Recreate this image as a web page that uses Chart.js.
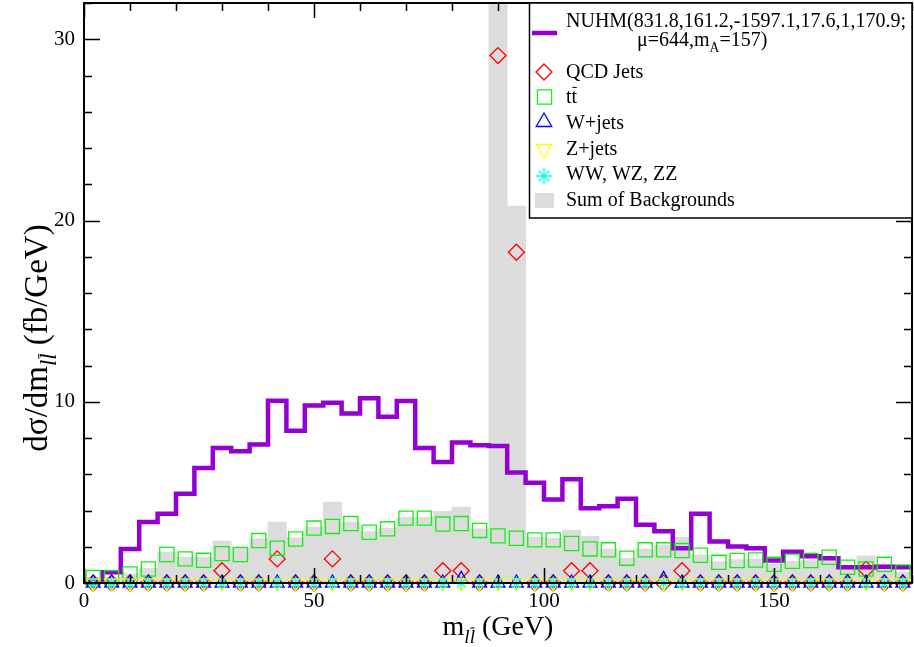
<!DOCTYPE html>
<html>
<head>
<meta charset="utf-8">
<title>m_ll distribution</title>
<script src="https://cdn.jsdelivr.net/npm/chart.js@4.4.0/dist/chart.umd.min.js"></script>
<style>
  html, body { margin: 0; padding: 0; background: #fff; }
  #wrap { width: 914px; height: 647px; }
</style>
</head>
<body>
<div id="wrap"><canvas id="mllChart"></canvas></div>
<script>
// bin centres (GeV), 4 GeV bins from 0 to 180
const massBins = [2, 6, 10, 14, 18, 22, 26, 30, 34, 38, 42, 46, 50, 54, 58, 62, 66, 70, 74, 78, 82, 86, 90,
  94, 98, 102, 106, 110, 114, 118, 122, 126, 130, 134, 138, 142, 146, 150, 154, 158, 162, 166, 170, 174, 178];
const binWidth = 4;

const nuhmSignal = [0.15, 0.6, 1.88, 3.36, 3.82, 4.93, 6.35, 7.45, 7.27, 7.64, 10.06, 8.4, 9.8, 9.95, 9.35, 10.2,
  9.17, 10.04, 7.45, 6.68, 7.75, 7.6, 7.56, 6.09, 5.53, 4.61, 5.72, 4.13, 4.24, 4.65, 3.21, 2.86, 1.92, 3.82,
  2.29, 2.01, 1.92, 1.24, 1.73, 1.48, 1.37, 0.87, 0.87, 0.9, 0.87];
const qcdJets = [0, 0, 0, 0, 0, 0, 0, 0.68, 0, 0, 1.33, 0, 0, 1.33, 0, 0, 0, 0, 0, 0.68, 0.68, 0, 29.1,
  18.25, 0, 0, 0.68, 0.68, 0, 0, 0, 0, 0.68, 0, 0, 0, 0, 0, 0, 0, 0, 0, 0.75, 0, 0];
const ttbar = [0.3, 0.3, 0.5, 0.77, 1.57, 1.33, 1.25, 1.62, 1.57, 2.34, 1.92, 2.43, 3.03, 3.12, 3.28, 2.8,
  2.99, 3.58, 3.58, 3.25, 3.28, 2.9, 2.6, 2.47, 2.38, 2.38, 2.18, 1.88, 1.83, 1.37, 1.83, 1.83, 1.79, 1.53,
  1.14, 1.24, 1.27, 1.03, 1.2, 1.24, 1.42, 0.87, 0.77, 1.03, 0.61];
const wJets = [0, 0, 0, 0, 0, 0, 0, 0, 0, 0, 0, 0, 0, 0, 0, 0, 0, 0, 0, 0, 0.2, 0, 0,
  0, 0, 0, 0, 0, 0, 0, 0, 0.2, 0, 0, 0, 0, 0, 0, 0, 0, 0, 0, 0, 0, 0];
const zJets = [0, 0, 0, 0, 0, 0, 0, 0, 0, 0, 0, 0, 0, 0, 0, 0, 0, 0, 0, 0, 0, 0, 0,
  0, 0, 0, 0, 0, 0, 0, 0, 0, 0, 0, 0, 0, 0, 0, 0, 0, 0, 0, 0, 0, 0];
const diboson = [0, 0, 0, 0, 0, 0, 0, 0, 0, 0, 0, 0, 0, 0, 0, 0, 0, 0, 0, 0, 0, 0, 0,
  0, 0, 0, 0, 0, 0, 0, 0, 0, 0, 0, 0, 0, 0, 0, 0, 0, 0, 0, 0, 0, 0];
const sumBackgrounds = [0.3, 0.3, 0.5, 0.81, 1.7, 1.42, 1.42, 2.32, 1.94, 2.44, 3.36, 2.5, 3.08, 4.46, 3.36,
  2.84, 3.03, 3.63, 3.63, 3.95, 4.19, 2.99, 32.5, 20.8, 2.53, 2.47, 2.9, 2.58, 1.88, 1.37, 1.88, 2.07, 2.53,
  1.55, 1.18, 1.29, 1.32, 1.04, 1.2, 1.24, 1.42, 0.87, 1.5, 1.03, 0.61];

const xMajorTicks = [0, 50, 100, 150];
const yMajorTicks = [0, 10, 20, 30];
const xMinorStep = 10, yMinorStep = 2;

const SERIF = '"Liberation Serif", "Times New Roman", serif';

const pts = arr => massBins.map((m, i) => ({ x: m, y: arr[i] }));
// histogram outline: left edges plus closing edge
const stepPts = arr => {
  const out = massBins.map((m, i) => ({ x: m - binWidth / 2, y: arr[i] }));
  out.push({ x: massBins[massBins.length - 1] + binWidth / 2, y: arr[arr.length - 1] });
  return out;
};

function markerSet(label, data, style, radius, color, rot, order) {
  return {
    type: 'scatter', label: label, data: pts(data), order: order,
    showLine: false, clip: false,
    pointStyle: style, pointRadius: radius, pointHoverRadius: radius,
    pointBorderColor: color, pointBackgroundColor: 'rgba(0,0,0,0)',
    pointBorderWidth: 1.3, pointRotation: rot
  };
}

function drawMarker(ctx, style, x, y, r, color, rot) {
  ctx.save();
  ctx.strokeStyle = color;
  ctx.lineWidth = 1.3;
  ctx.beginPath();
  if (style === 'rectRot') {
    ctx.moveTo(x, y - r); ctx.lineTo(x + r, y); ctx.lineTo(x, y + r); ctx.lineTo(x - r, y); ctx.closePath();
  } else if (style === 'rect') {
    const h = r * Math.SQRT1_2;
    ctx.rect(x - h, y - h, 2 * h, 2 * h);
  } else if (style === 'triangle') {
    const s = rot ? -1 : 1;
    ctx.moveTo(x, y - s * r); ctx.lineTo(x + r * 0.866, y + s * r * 0.5); ctx.lineTo(x - r * 0.866, y + s * r * 0.5); ctx.closePath();
  } else if (style === 'star') {
    for (let k = 0; k < 4; k++) {
      const a = k * Math.PI / 4;
      ctx.moveTo(x + Math.sin(a) * r, y - Math.cos(a) * r);
      ctx.lineTo(x - Math.sin(a) * r, y + Math.cos(a) * r);
    }
  }
  ctx.stroke();
  ctx.restore();
}

// text with subscripts / overbars: segs = [{t, sub, italic, bar}]
function drawRich(ctx, segs, x, y, size, dry) {
  let cx = x;
  segs.forEach(s => {
    const fs = s.sub ? size * 0.68 : size;
    ctx.font = (s.italic ? 'italic ' : '') + fs + 'px ' + SERIF;
    const w = ctx.measureText(s.t).width;
    const by = y + (s.sub ? size * 0.28 : 0);
    if (!dry) {
      ctx.fillText(s.t, cx, by);
      if (s.bar) {
        ctx.save();
        ctx.lineWidth = 1;
        ctx.beginPath();
        const top = by - fs * 0.78;
        ctx.moveTo(cx + w * 0.15, top); ctx.lineTo(cx + w * 0.95, top);
        ctx.stroke();
        ctx.restore();
      }
    }
    cx += w;
  });
  return cx - x;
}

const frameTicks = {
  id: 'frameTicks',
  afterDatasetsDraw(chart) {
    const { ctx, chartArea: a, scales: { x, y } } = chart;
    ctx.save();
    ctx.strokeStyle = '#000';
    ctx.lineWidth = 1.5;
    ctx.beginPath();
    for (let v = 0; v <= x.max; v += xMinorStep) {
      const len = xMajorTicks.includes(v) ? 15 : 8;
      const px = Math.round(x.getPixelForValue(v)) + 0.5;
      ctx.moveTo(px, a.bottom); ctx.lineTo(px, a.bottom - len);
      ctx.moveTo(px, a.top); ctx.lineTo(px, a.top + len);
    }
    for (let v = 0; v <= y.max; v += yMinorStep) {
      const len = yMajorTicks.includes(v) ? 16 : 8;
      const py = Math.round(y.getPixelForValue(v)) + 0.5;
      ctx.moveTo(a.left, py); ctx.lineTo(a.left + len, py);
      ctx.moveTo(a.right, py); ctx.lineTo(a.right - len, py);
    }
    ctx.stroke();
    ctx.lineWidth = 2;
    ctx.strokeRect(a.left, a.top, a.right - a.left, a.bottom - a.top);
    ctx.restore();
  }
};

const annotations = {
  id: 'annotations',
  afterDraw(chart) {
    const { ctx, chartArea: a } = chart;
    ctx.save();
    ctx.fillStyle = '#000';
    ctx.strokeStyle = '#000';
    ctx.textBaseline = 'alphabetic';

    // x axis title
    const xt = [{ t: 'm' }, { t: 'l', sub: true, italic: true }, { t: 'l', sub: true, italic: true, bar: true }, { t: ' (GeV)' }];
    const xw = drawRich(ctx, xt, 0, 0, 28, true);
    drawRich(ctx, xt, (a.left + a.right) / 2 - xw / 2, 635, 28);

    // y axis title
    const yt = [{ t: 'd\u03c3/dm' }, { t: 'l', sub: true, italic: true }, { t: 'l', sub: true, italic: true, bar: true }, { t: ' (fb/GeV)' }];
    const yw = drawRich(ctx, yt, 0, 0, 33, true);
    ctx.save();
    ctx.translate(47, 338 + yw / 2);
    ctx.rotate(-Math.PI / 2);
    drawRich(ctx, yt, 0, 0, 33);
    ctx.restore();

    // legend box
    const L = 529.5, T = 3, R = a.right, B = 218;
    ctx.fillStyle = '#fff';
    ctx.fillRect(L, T, R - L, B - T);
    ctx.lineWidth = 1.5;
    ctx.strokeRect(L, T, R - L, B - T);
    ctx.fillStyle = '#000';

    ctx.save();
    ctx.strokeStyle = '#9400d3';
    ctx.lineWidth = 4.5;
    ctx.beginPath(); ctx.moveTo(532, 33); ctx.lineTo(557, 33); ctx.stroke();
    ctx.restore();
    ctx.font = '20px ' + SERIF;
    ctx.fillText('NUHM(831.8,161.2,-1597.1,17.6,1,170.9;', 566, 27);
    drawRich(ctx, [{ t: '\u03bc=644,m' }, { t: 'A', sub: true }, { t: '=157)' }], 637, 46, 20);

    drawMarker(ctx, 'rectRot', 544, 72, 8, '#ff0000', 0);
    drawRich(ctx, [{ t: 'QCD Jets' }], 566, 78, 20);
    drawMarker(ctx, 'rect', 544.5, 97, 10, '#10f010', 0);
    drawRich(ctx, [{ t: 't' }, { t: 't', bar: true }], 566, 103, 20);
    drawMarker(ctx, 'triangle', 544, 122, 9, '#0000ff', 0);
    drawRich(ctx, [{ t: 'W+jets' }], 566, 129, 20);
    drawMarker(ctx, 'triangle', 544, 149, 9, '#ffff00', 180);
    drawRich(ctx, [{ t: 'Z+jets' }], 566, 155, 20);
    drawMarker(ctx, 'star', 544, 176, 8, '#00ffff', 0);
    drawRich(ctx, [{ t: 'WW, WZ, ZZ' }], 566, 180, 20);
    ctx.fillStyle = '#dcdcdc';
    ctx.fillRect(535, 193, 19, 15);
    ctx.fillStyle = '#000';
    drawRich(ctx, [{ t: 'Sum of Backgrounds' }], 566, 206, 20);
    ctx.restore();
  }
};

new Chart(document.getElementById('mllChart'), {
  type: 'scatter',
  data: {
    datasets: [
      {
        type: 'bar', label: 'Sum of Backgrounds', data: pts(sumBackgrounds), order: 10,
        backgroundColor: '#dcdcdc', borderWidth: 0, barPercentage: 1, categoryPercentage: 1, grouped: false
      },
      {
        type: 'line', label: 'NUHM', data: stepPts(nuhmSignal), order: 9,
        borderColor: '#9400d3', borderWidth: 4.5, stepped: 'before', pointRadius: 0,
        fill: false, borderJoinStyle: 'miter'
      },
      markerSet('QCD Jets', qcdJets, 'rectRot', 8, '#ff0000', 0, 8),
      markerSet('ttbar', ttbar, 'rect', 10, '#10f010', 0, 7),
      markerSet('W+jets', wJets, 'triangle', 8, '#0000ff', 0, 6),
      markerSet('Z+jets', zJets, 'triangle', 8, '#ffff00', 180, 5),
      markerSet('WW, WZ, ZZ', diboson, 'star', 6.5, '#00ffff', 0, 4)
    ]
  },
  options: {
    responsive: true,
    maintainAspectRatio: false,
    animation: false,
    events: [],
    layout: { autoPadding: false, padding: { top: 3, right: 2, left: 0, bottom: 0 } },
    plugins: { legend: { display: false }, tooltip: { enabled: false } },
    scales: {
      x: {
        type: 'linear', min: 0, max: 180, offset: false,
        afterBuildTicks: s => { s.ticks = xMajorTicks.map(v => ({ value: v })); },
        afterFit: s => { s.height = 64; s.paddingLeft = 0; s.paddingRight = 0; },
        ticks: { color: '#000', font: { family: SERIF, size: 21 }, padding: 6, maxRotation: 0, autoSkip: false },
        grid: { display: false, drawTicks: false, offset: false },
        border: { display: false }
      },
      y: {
        type: 'linear', min: 0, max: 32,
        afterBuildTicks: s => { s.ticks = yMajorTicks.map(v => ({ value: v })); },
        afterFit: s => { s.width = 84; s.paddingTop = 0; s.paddingBottom = 0; },
        ticks: { color: '#000', font: { family: SERIF, size: 21 }, padding: 9, autoSkip: false },
        grid: { display: false, drawTicks: false },
        border: { display: false }
      }
    }
  },
  plugins: [frameTicks, annotations]
});
</script>
</body>
</html>
